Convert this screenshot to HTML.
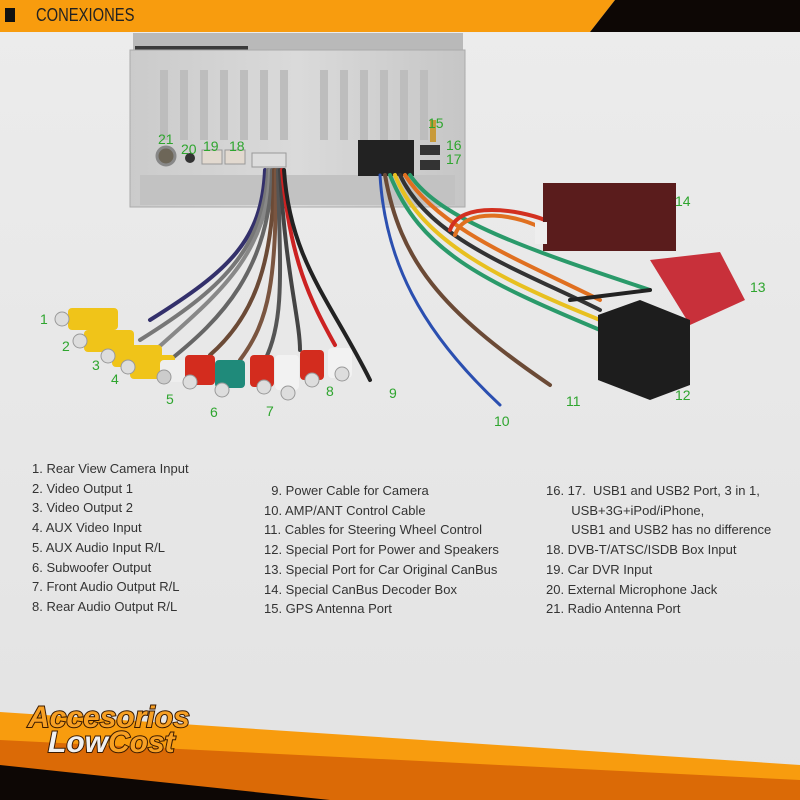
<!DOCTYPE html>
<html><head><meta charset="utf-8"><style>
body{margin:0;width:800px;height:800px;overflow:hidden;background:#e9e9e9;font-family:"Liberation Sans",sans-serif}
.t{position:absolute;font-size:13px;color:#333;line-height:19.7px;white-space:pre}
</style></head><body>
<svg width="800" height="800" style="position:absolute;left:0;top:0">
<defs>
<linearGradient id="bg" x1="0" y1="0" x2="0" y2="1"><stop offset="0" stop-color="#ececec"/><stop offset="1" stop-color="#e3e3e3"/></linearGradient>
<linearGradient id="met" x1="0" y1="0" x2="1" y2="0"><stop offset="0" stop-color="#cbcbcb"/><stop offset=".5" stop-color="#dadada"/><stop offset="1" stop-color="#c6c6c6"/></linearGradient>
</defs>
<rect width="800" height="800" fill="url(#bg)"/>
<polygon points="0,0 615,0 590,32 0,32" fill="#f89c0e"/>
<polygon points="615,0 800,0 800,32 590,32" fill="#0d0705"/>
<rect x="5" y="8" width="10" height="14" fill="#111"/>
<!-- device -->
<rect x="133" y="33" width="330" height="20" fill="#b9b9b9"/>
<rect x="135" y="46" width="113" height="5" fill="#3a3a3a"/>
<rect x="130" y="50" width="335" height="157" fill="url(#met)" stroke="#aaa"/>
<g fill="#bdbdbd">
<rect x="160" y="70" width="8" height="70"/><rect x="180" y="70" width="8" height="70"/><rect x="200" y="70" width="8" height="70"/><rect x="220" y="70" width="8" height="70"/><rect x="240" y="70" width="8" height="70"/><rect x="260" y="70" width="8" height="70"/><rect x="280" y="70" width="8" height="70"/><rect x="320" y="70" width="8" height="70"/><rect x="340" y="70" width="8" height="70"/><rect x="360" y="70" width="8" height="70"/><rect x="380" y="70" width="8" height="70"/><rect x="400" y="70" width="8" height="70"/><rect x="420" y="70" width="8" height="70"/>
</g>
<rect x="140" y="175" width="315" height="30" fill="#c2c2c2"/>
<circle cx="166" cy="156" r="9" fill="#6d6658" stroke="#888" stroke-width="3"/>
<circle cx="190" cy="158" r="5" fill="#333"/>
<rect x="202" y="150" width="20" height="14" fill="#e2d9cf" stroke="#999"/>
<rect x="225" y="150" width="20" height="14" fill="#e2d9cf" stroke="#999"/>
<rect x="252" y="153" width="34" height="14" fill="#ddd" stroke="#999"/>
<rect x="358" y="140" width="56" height="36" fill="#222"/>
<rect x="420" y="145" width="20" height="10" fill="#333"/><rect x="420" y="160" width="20" height="10" fill="#333"/>
<rect x="430" y="120" width="6" height="22" fill="#c89a3a"/>
<g fill="#2ea52e" font-size="14" font-family="Liberation Sans,sans-serif">
<text x="158" y="144">21</text><text x="181" y="154">20</text><text x="203" y="151">19</text><text x="229" y="151">18</text>
<text x="428" y="128">15</text><text x="446" y="150">16</text><text x="446" y="164">17</text>
<text x="675" y="206">14</text><text x="750" y="292">13</text><text x="675" y="400">12</text>
<text x="40" y="324">1</text><text x="62" y="351">2</text><text x="92" y="370">3</text><text x="111" y="384">4</text>
<text x="166" y="404">5</text><text x="210" y="417">6</text><text x="266" y="416">7</text><text x="326" y="396">8</text><text x="389" y="398">9</text>
<text x="494" y="426">10</text><text x="566" y="406">11</text>
</g>
<g fill="none" stroke-width="4" stroke-linecap="round">
<path d="M265 170 C262 240 230 270 150 320" stroke="#33306b"/>
<path d="M268 170 C264 250 220 290 140 340" stroke="#777"/>
<path d="M270 170 C268 260 210 300 150 355" stroke="#888"/>
<path d="M272 170 C270 270 220 320 170 360" stroke="#666"/>
<path d="M274 170 C274 270 250 320 210 355" stroke="#6b4a36"/>
<path d="M276 170 C276 280 270 320 240 360" stroke="#7a5540"/>
<path d="M278 170 C280 270 285 320 265 360" stroke="#555"/>
<path d="M280 170 C285 270 300 320 300 350" stroke="#444"/>
<path d="M282 170 C290 260 310 300 335 345" stroke="#c22"/>
<path d="M284 170 C290 260 330 300 370 380" stroke="#222"/>
</g>
<g>
<rect x="68" y="308" width="50" height="22" rx="4" fill="#f0c419"/><circle cx="62" cy="319" r="7" fill="#ddd" stroke="#999"/>
<rect x="84" y="330" width="50" height="22" rx="4" fill="#f0c419"/><circle cx="80" cy="341" r="7" fill="#ddd" stroke="#999"/>
<rect x="112" y="345" width="50" height="22" rx="4" fill="#f0c419"/><circle cx="108" cy="356" r="7" fill="#ddd" stroke="#999"/>
<rect x="130" y="355" width="45" height="24" rx="4" fill="#f0c419"/><circle cx="128" cy="367" r="7" fill="#ddd" stroke="#999"/>
<rect x="160" y="360" width="30" height="22" rx="4" fill="#eee"/><circle cx="164" cy="377" r="7" fill="#ccc" stroke="#999"/>
<rect x="185" y="355" width="30" height="30" rx="4" fill="#d32c1e"/><circle cx="190" cy="382" r="7" fill="#ddd" stroke="#999"/>
<rect x="215" y="360" width="30" height="28" rx="4" fill="#1f8a7a"/><circle cx="222" cy="390" r="7" fill="#ddd" stroke="#999"/>
<rect x="250" y="355" width="24" height="32" rx="4" fill="#d32c1e"/><circle cx="264" cy="387" r="7" fill="#ddd" stroke="#999"/>
<rect x="275" y="355" width="24" height="35" rx="4" fill="#f2f2f2"/><circle cx="288" cy="393" r="7" fill="#ddd" stroke="#999"/>
<rect x="300" y="350" width="24" height="30" rx="4" fill="#d32c1e"/><circle cx="312" cy="380" r="7" fill="#ddd" stroke="#999"/>
<rect x="328" y="348" width="24" height="30" rx="4" fill="#f2f2f2"/><circle cx="342" cy="374" r="7" fill="#ddd" stroke="#999"/>
</g>
<g fill="none" stroke-width="4" stroke-linecap="round">
<path d="M380 175 C385 260 420 330 500 405" stroke="#2b4fb0" stroke-width="3"/>
<path d="M385 175 C400 260 440 310 550 385" stroke="#6b4a36"/>
<path d="M390 175 C420 250 480 280 600 330" stroke="#2a9a6a"/>
<path d="M395 175 C420 240 500 280 600 320" stroke="#e8c020"/>
<path d="M400 175 C430 240 520 270 600 310" stroke="#333"/>
<path d="M405 175 C440 230 520 260 600 300" stroke="#e07020"/>
<path d="M410 175 C440 220 530 250 650 290" stroke="#2a9a6a"/>
<path d="M450 230 C460 200 520 210 545 220" stroke="#d23020"/>
<path d="M455 235 C465 205 520 215 545 230" stroke="#e07020"/>
<path d="M570 300 L650 290" stroke="#222"/>
</g>
<rect x="543" y="183" width="133" height="68" fill="#5a1c1c"/>
<rect x="535" y="222" width="12" height="22" fill="#eee"/>
<polygon points="650,260 720,252 745,300 690,325" fill="#c8303a"/>
<polygon points="598,315 640,300 690,320 690,385 650,400 598,380" fill="#1d1d1d"/>
<!-- bottom band -->
<polygon points="0,712 800,765 800,800 0,800" fill="#f89c0e"/>
<polygon points="0,740 800,780 800,800 0,800" fill="#db6a06"/>
<polygon points="0,765 330,800 0,800" fill="#0d0705"/>
<g font-family="Liberation Sans,sans-serif" font-weight="bold" font-style="italic" stroke="#3a1a00" stroke-width="2" paint-order="stroke">
<text x="28" y="727" font-size="30" fill="#f7a024">Accesorios</text>
<text x="48" y="752" font-size="30" fill="#f0f0f0">Low<tspan fill="#f7a024">Cost</tspan></text>
</g>
</svg>
<div class="t" style="left:36px;top:6px;font-size:18px;color:#222;transform:scaleX(.82);transform-origin:left">CONEXIONES</div>
<div class="t" style="left:32px;top:459px">1. Rear View Camera Input
2. Video Output 1
3. Video Output 2
4. AUX Video Input
5. AUX Audio Input R/L
6. Subwoofer Output
7. Front Audio Output R/L
8. Rear Audio Output R/L</div>
<div class="t" style="left:264px;top:481px">  9. Power Cable for Camera
10. AMP/ANT Control Cable
11. Cables for Steering Wheel Control
12. Special Port for Power and Speakers
13. Special Port for Car Original CanBus
14. Special CanBus Decoder Box
15. GPS Antenna Port</div>
<div class="t" style="left:546px;top:481px">16. 17.  USB1 and USB2 Port, 3 in 1,
       USB+3G+iPod/iPhone,
       USB1 and USB2 has no difference
18. DVB-T/ATSC/ISDB Box Input
19. Car DVR Input
20. External Microphone Jack
21. Radio Antenna Port</div>
</body></html>
